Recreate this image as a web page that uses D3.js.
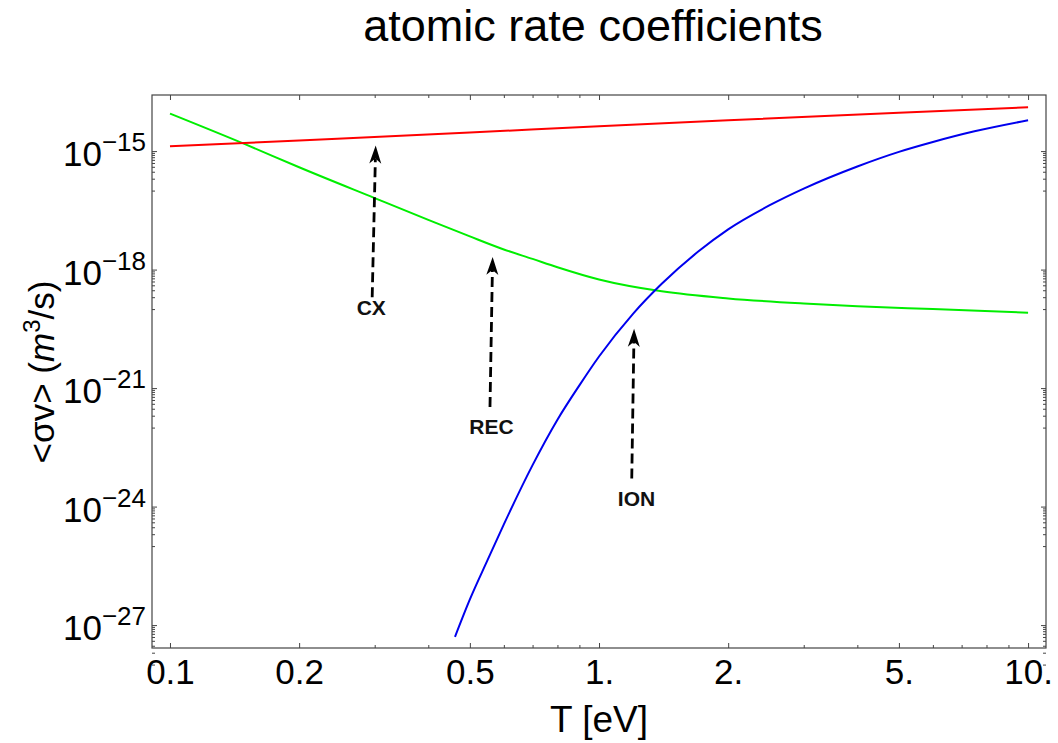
<!DOCTYPE html>
<html>
<head>
<meta charset="utf-8">
<script src="https://cdn.jsdelivr.net/npm/d3@7"></script>
<style>
  body { margin: 0; background: #fff; }
  text { font-family: "Liberation Sans", Arial, Helvetica, sans-serif; }
</style>
</head>
<body>
<div id="chart"></div>
<script>
// values: T in eV, log10 of <sigma v> in m^3/s
const cxT   = [0.1, 0.2, 0.5, 1, 2, 5, 10];
const cxLog = [-14.88, -14.73, -14.53, -14.37, -14.22, -14.03, -13.89];

const recT   = [0.1, 0.15, 0.2, 0.3, 0.4, 0.5, 0.6, 0.7, 0.8, 1, 1.4, 2, 3, 4, 6, 10];
const recLog = [-14.05, -14.83, -15.41, -16.19, -16.74, -17.16, -17.49, -17.73, -17.94, -18.25, -18.55, -18.73, -18.86, -18.93, -19.0, -19.09];

const ionT   = [0.4615, 0.5, 0.55, 0.6, 0.7, 0.8, 0.9, 1, 1.2, 1.4, 1.7, 2, 2.5, 3, 4, 5, 6, 7.5, 10];
const ionLog = [-27.3, -26.35, -25.35, -24.45, -22.95, -21.8, -20.93, -20.2, -19.12, -18.36, -17.55, -16.98, -16.37, -15.95, -15.39, -15.02, -14.77, -14.5, -14.22];

// annotation arrows (data coordinates)
const arrowNames   = ["CX", "REC", "ION"];
const arrowFromT   = [0.296, 0.557, 1.192];
const arrowFromLog = [-18.70, -21.48, -23.29];
const arrowToT     = [0.3016, 0.565, 1.207];
const arrowToLog   = [-14.86, -17.68, -19.50];
const labelT       = [0.2946, 0.5615, 1.223];
const labelLog     = [-18.95, -21.97, -23.80];

// ticks
const xMajor = [0.1, 0.2, 0.5, 1, 2, 5, 10];
const xLabels = ["0.1", "0.2", "0.5", "1.", "2.", "5.", "10."];
const xMinor = [0.3, 0.4, 0.6, 0.7, 0.8, 0.9, 3, 4, 6, 7, 8, 9];
const yMajorExp = [-15, -18, -21, -24, -27];

const W = 1058, H = 743;
const margin = {top: 95, right: 12, bottom: 95, left: 152};
const width = W - margin.left - margin.right;
const height = H - margin.top - margin.bottom;

const svg = d3.select("#chart").append("svg")
    .attr("width", W)
    .attr("height", H);

const g = svg.append("g")
    .attr("transform", "translate(" + margin.left + "," + margin.top + ")");

// Mathematica-like padding around 0.1..10 and 1e-27.58..1e-13.58
const x = d3.scaleLog()
    .domain([0.0908, 11.01])
    .range([0, width]);

const y = d3.scaleLog()
    .domain([Math.pow(10, -27.58), Math.pow(10, -13.58)])
    .range([height, 0]);

// y minor ticks: k * 10^(n-1) under every labelled decade
let yMinor = [];
yMajorExp.forEach(n => {
    for (let k = 1; k <= 9; k++) yMinor.push(k * Math.pow(10, n - 1));
});
const yMajor = yMajorExp.map(n => Math.pow(10, n));

// frame
g.append("rect")
    .attr("width", width)
    .attr("height", height)
    .attr("fill", "none")
    .attr("stroke", "#444")
    .attr("stroke-width", 1.2);

function styleAxis(sel) {
    sel.select(".domain").remove();
    sel.selectAll(".tick line").attr("stroke", "#444");
}

// bottom axis with labels
g.append("g")
    .attr("transform", "translate(0," + height + ")")
    .call(d3.axisBottom(x).tickValues(xMajor).tickFormat((d, i) => xLabels[i])
        .tickSizeInner(-5).tickSizeOuter(0).tickPadding(11))
    .call(styleAxis)
    .selectAll("text")
    .attr("font-size", 35)
    .attr("fill", "#000");

g.append("g")
    .attr("transform", "translate(0," + height + ")")
    .call(d3.axisBottom(x).tickValues(xMinor).tickFormat("").tickSizeInner(-3).tickSizeOuter(0))
    .call(styleAxis);

// top ticks
g.append("g")
    .call(d3.axisTop(x).tickValues(xMajor).tickFormat("").tickSizeInner(-5).tickSizeOuter(0))
    .call(styleAxis);
g.append("g")
    .call(d3.axisTop(x).tickValues(xMinor).tickFormat("").tickSizeInner(-3).tickSizeOuter(0))
    .call(styleAxis);

// left axis
const yAx = g.append("g")
    .call(d3.axisLeft(y).tickValues(yMajor).tickFormat("").tickSizeInner(-5).tickSizeOuter(0).tickPadding(6))
    .call(styleAxis);

yAx.selectAll(".tick text").each(function(d, i) {
    const t = d3.select(this)
        .attr("font-size", 35)
        .attr("fill", "#000")
        .attr("dy", "0.42em");
    t.append("tspan").text("10");
    t.append("tspan")
        .attr("font-size", 26)
        .attr("dy", -15)
        .text("\u2212" + Math.abs(yMajorExp[i]));
});

g.append("g")
    .call(d3.axisLeft(y).tickValues(yMinor).tickFormat("").tickSizeInner(-3).tickSizeOuter(0))
    .call(styleAxis);

// right ticks
g.append("g")
    .attr("transform", "translate(" + width + ",0)")
    .call(d3.axisRight(y).tickValues(yMajor).tickFormat("").tickSizeInner(-5).tickSizeOuter(0))
    .call(styleAxis);
g.append("g")
    .attr("transform", "translate(" + width + ",0)")
    .call(d3.axisRight(y).tickValues(yMinor).tickFormat("").tickSizeInner(-3).tickSizeOuter(0))
    .call(styleAxis);

// curves
const line = d3.line()
    .x(d => x(d[0]))
    .y(d => y(Math.pow(10, d[1])))
    .curve(d3.curveMonotoneX);

const series = [
    {T: recT, v: recLog, color: "#00ee00"},
    {T: ionT, v: ionLog, color: "#0000ee"},
    {T: cxT,  v: cxLog,  color: "#ff0000"}
];

g.selectAll(".curve")
    .data(series)
    .enter().append("path")
    .attr("class", "curve")
    .attr("fill", "none")
    .attr("stroke", d => d.color)
    .attr("stroke-width", 2)
    .attr("d", d => line(d.T.map((t, i) => [t, d.v[i]])));

// arrows
arrowNames.forEach((name, i) => {
    const x0 = x(arrowFromT[i]), y0 = y(Math.pow(10, arrowFromLog[i]));
    const x1 = x(arrowToT[i]),   y1 = y(Math.pow(10, arrowToLog[i]));
    const len = Math.hypot(x1 - x0, y1 - y0);
    const ux = (x1 - x0) / len, uy = (y1 - y0) / len;
    const headL = 18, headW = 6, notch = 13;

    g.append("line")
        .attr("x1", x0).attr("y1", y0)
        .attr("x2", x1 - ux * notch).attr("y2", y1 - uy * notch)
        .attr("stroke", "#000")
        .attr("stroke-width", 2.8)
        .attr("stroke-dasharray", "10,5");

    const bx = x1 - ux * headL, by = y1 - uy * headL;
    const nx = -uy, ny = ux;
    const pts = [
        [x1, y1],
        [bx + nx * headW, by + ny * headW],
        [x1 - ux * notch, y1 - uy * notch],
        [bx - nx * headW, by - ny * headW]
    ];
    g.append("path")
        .attr("d", "M" + pts.map(p => p.join(",")).join("L") + "Z")
        .attr("fill", "#000");

    g.append("text")
        .attr("x", x(labelT[i]))
        .attr("y", y(Math.pow(10, labelLog[i])))
        .attr("dy", "0.36em")
        .attr("text-anchor", "middle")
        .attr("font-size", 21)
        .attr("font-weight", "bold")
        .attr("fill", "#111")
        .text(name);
});

// title
svg.append("text")
    .attr("x", 593)
    .attr("y", 41)
    .attr("text-anchor", "middle")
    .attr("font-size", 45)
    .text("atomic rate coefficients");

// x label
svg.append("text")
    .attr("x", 599)
    .attr("y", 732)
    .attr("text-anchor", "middle")
    .attr("font-size", 37)
    .text("T [eV]");

// y label
const yl = svg.append("text")
    .attr("transform", "translate(54," + 372 + ") rotate(-90)")
    .attr("text-anchor", "middle")
    .attr("font-size", 35);
yl.append("tspan").text("<\u03c3v> (");
yl.append("tspan").attr("font-style", "italic").text("m");
yl.append("tspan").attr("font-size", 24).attr("dy", -14).text("3");
yl.append("tspan").attr("dy", 14).text("/s)");
</script>
</body>
</html>
